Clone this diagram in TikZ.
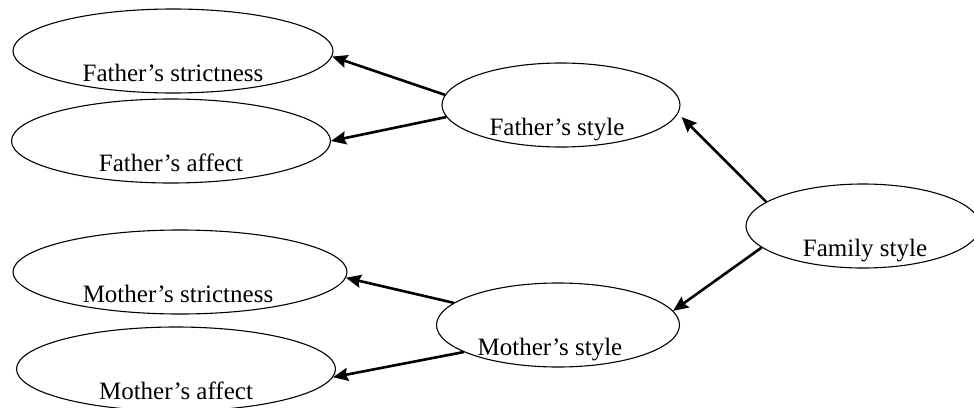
\documentclass[tikz,border=0pt]{standalone}
\usepackage{fontspec}
\setmainfont{Liberation Serif}
\usetikzlibrary{shapes.geometric,arrows.meta}

\begin{document}
\begin{tikzpicture}[x=1pt,y=-1pt]
  % Settings
  \tikzset{
    var/.style={draw, shape=ellipse, line width=1.1pt, inner sep=0pt, minimum height=84pt},
    lbl/.style={anchor=base, inner sep=0pt, font=\fontsize{25}{30}\selectfont},
    path/.style={line width=2.6pt, -{Stealth[length=15pt,width=13pt,inset=2pt]}},
  }
  \useasboundingbox (0,0) rectangle (974,407);
  % Latent variables
  \node[var, minimum width=320pt] (fstrict) at (173,51) {};
  \node[var, minimum width=319pt] (faffect) at (171,141) {};
  \node[var, minimum width=238pt] (fstyle) at (561,105) {};
  \node[var, minimum width=234pt] (family) at (863,226) {};
  \node[var, minimum width=334pt] (mstrict) at (180,272) {};
  \node[var, minimum width=319pt] (maffect) at (176,369) {};
  \node[var, minimum width=243pt] (mstyle) at (558,325) {};
  % Labels
  \node[lbl] (fstrictlbl) at ([yshift=-30pt]fstrict.center) {Father's strictness};
  \node[lbl] (faffectlbl) at ([yshift=-30pt]faffect.center) {Father's affect};
  \node[lbl] (fstylelbl) at ([xshift=-4pt,yshift=-30pt]fstyle.center) {Father's style};
  \node[lbl] (familylbl) at ([xshift=2pt,yshift=-30pt]family.center) {Family style};
  \node[lbl] (mstrictlbl) at ([xshift=-2pt,yshift=-30pt]mstrict.center) {Mother's strictness};
  \node[lbl] (maffectlbl) at ([yshift=-30pt]maffect.center) {Mother's affect};
  \node[lbl] (mstylelbl) at ([xshift=-8pt,yshift=-30pt]mstyle.center) {Mother's style};
  % Arrows
  \draw[path] (family.166) -- ([xshift=6pt]fstyle.-6);
  \draw[path] (family.192) -- (mstyle.7);
  \draw[path] (fstyle.175) -- (fstrict.-2);
  \draw[path] (fstyle.186) -- (faffect.east);
  \draw[path] (mstyle.168) -- (mstrict.-2);
  \draw[path] (mstyle.196) -- (maffect.-3);
\end{tikzpicture}
\end{document}
